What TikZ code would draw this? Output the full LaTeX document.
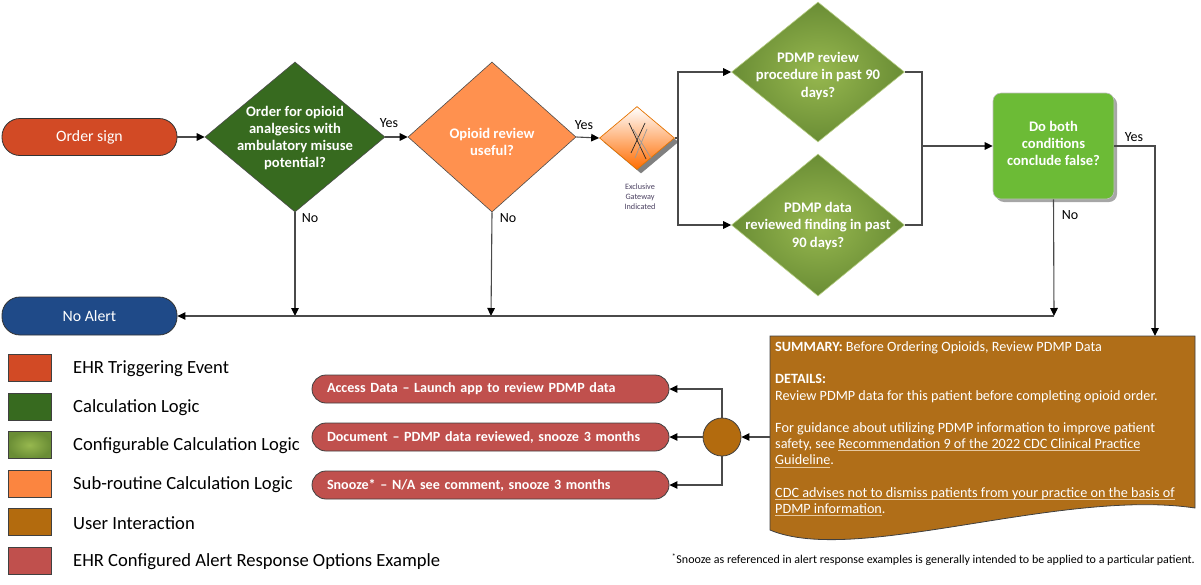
\documentclass[tikz,border=0pt]{standalone}
\usepackage{fontspec}
\setmainfont{Carlito}
\usetikzlibrary{shapes.geometric,arrows.meta,shadows}
\definecolor{orderred}{HTML}{D24A25}
\definecolor{calcgreen}{HTML}{376A1F}
\definecolor{suborange}{HTML}{FF914F}
\definecolor{legorange}{HTML}{FB8540}
\definecolor{cfgin}{HTML}{97B84F}
\definecolor{cfgout}{HTML}{6A8D35}
\definecolor{boxgreen}{HTML}{6CBB36}
\definecolor{noalertblue}{HTML}{1F4A88}
\definecolor{notebrown}{HTML}{B06E18}
\definecolor{userbrown}{HTML}{B36B0E}
\definecolor{pillred}{HTML}{C0504D}
\definecolor{linegray}{HTML}{4A4A4A}
\definecolor{ulcol}{HTML}{E6C8A0}
\definecolor{gwtext}{HTML}{4A4060}
\newcommand\tanul[1]{\setbox0\hbox{#1}\rlap{\color{ulcol}\rule[-2.6pt]{\wd0}{0.9pt}}\box0}
\tikzset{
  conn/.style={draw=linegray, line width=1.1pt},
  arr/.style={conn, -{Triangle[length=8pt,width=7.5pt,fill=black,color=black]}},
  pill/.style={rectangle, rounded corners=18pt, draw=black!80, line width=0.8pt, minimum width=175pt, minimum height=37pt, text=white, font=\fontsize{15.8}{18}\selectfont},
  dia/.style={diamond, inner sep=0pt, draw=black!70, line width=0.6pt},
  dtext/.style={text=white, align=center, font=\bfseries\fontsize{14.6}{17.2}\selectfont},
  lbl/.style={text=black, font=\fontsize{14}{16}\selectfont, inner sep=0pt},
  legbox/.style={rectangle, draw=black!75, line width=0.8pt, minimum width=43pt, minimum height=27pt, inner sep=0pt},
  legtext/.style={anchor=west, font=\fontsize{18.6}{21}\selectfont, inner sep=0pt},
  resp/.style={rectangle, rounded corners=14pt, fill=pillred, draw=black!75, line width=0.8pt, text width=327pt, inner xsep=15pt, inner ysep=0pt, minimum height=28pt, align=left, text=white, font=\bfseries\fontsize{14.1}{16}\selectfont}
}
\begin{document}
\begin{tikzpicture}[x=1pt,y=-1pt]
\useasboundingbox (0,0) rectangle (1201,584);
% start / end
\node[pill, fill=orderred] (order) at (89.5,137) {Order sign};
\node[pill, fill=noalertblue, minimum height=38pt] (noalert) at (89.5,316) {No Alert};
% decisions
\node[dia, fill=calcgreen, minimum width=180pt, minimum height=150pt] (d1) at (295,137) {};
\node[dtext] (d1t) at (295,138) {Order for opioid\\analgesics with\\ambulatory misuse\\potential?};
\node[dia, fill=suborange, minimum width=168pt, minimum height=150pt] (d2) at (492,137) {};
\node[dtext] (d2t) at (492,142) {Opioid review\\useful?};
\node[dia, draw=orange!90!black, line width=0.7pt, top color=white, bottom color=orange!85!red, minimum width=75pt, minimum height=63pt,
  drop shadow={shadow xshift=4pt, shadow yshift=-4pt, fill=black!50, opacity=1}] (gw) at (637,138) {};
\draw[black!85, line width=0.7pt] (629,123) -- (646,159) (645,123) -- (631,153);
\draw[black!40, line width=0.7pt] (633,129) -- (651,158) (647,129) -- (635,158);
\node[text=gwtext, align=center, font=\fontsize{8.2}{10}\selectfont, inner sep=0pt] (gwt) at (640,197) {Exclusive\\Gateway\\Indicated};
\node[dia, draw=cfgin!70!white, shading=radial, inner color=cfgin, outer color=cfgout, minimum width=173pt, minimum height=140pt] (d3) at (818,72) {};
\node[dtext] (d3t) at (818,76) {PDMP review\\procedure in past 90\\days?};
\node[dia, draw=cfgin!70!white, shading=radial, inner color=cfgin, outer color=cfgout, minimum width=173pt, minimum height=142pt] (d4) at (818,225) {};
\node[dtext] (d4t) at (818,226) {PDMP data\\reviewed finding in past\\90 days?};
\node[rectangle, rounded corners=8pt, fill=boxgreen, draw=black!25, line width=0.6pt, minimum width=121pt, minimum height=106pt,
  drop shadow={shadow xshift=3pt, shadow yshift=-3pt, fill=black!35, opacity=1}] (box) at (1053.5,146) {};
\node[dtext] (boxt) at (1053.5,143.5) {Do both\\conditions\\conclude false?};
% note
\draw[fill=notebrown, draw=black!75, line width=0.8pt] (770,336) -- (1195,336) -- (1195,508) .. controls (1060,488) and (855,566) .. (770,530) -- cycle;
\coordinate (notetop) at (1155,336);
\coordinate (noteleft) at (770,437);
\node[anchor=north west, align=left, text=white, inner sep=0pt, font=\fontsize{14.2}{16.2}\selectfont] (notet) at (775,341.5) {%
\textbf{SUMMARY:} Before Ordering Opioids, Review PDMP Data\\[16.2pt]
\textbf{DETAILS:}\\
Review PDMP data for this patient before completing opioid order.\\[16.2pt]
For guidance about utilizing PDMP information to improve patient\\
safety, see \tanul{Recommendation 9 of the 2022 CDC Clinical Practice}\\
\tanul{Guideline}.\\[16.2pt]
\tanul{CDC advises not to dismiss patients from your practice on the basis of}\\
\tanul{PDMP information}.};
% response options
\node[resp] (p1) at (490.5,389) {Access Data -- Launch app to review PDMP data};
\node[resp] (p2) at (490.5,437) {Document -- PDMP data reviewed, snooze 3 months};
\node[resp] (p3) at (490.5,485) {Snooze* -- N/A see comment, snooze 3 months};
\node[circle, fill=userbrown, draw=black!75, line width=0.8pt, minimum size=38pt, inner sep=0pt] (ui) at (722,437) {};
% connectors
\draw[arr] (order.east) -- (d1.west);
\draw[arr] (d1.east) -- (d2.west);
\draw[arr] (d2.east) -- (gw.west);
\coordinate (split) at (678,138);
\draw[conn] (gw.east) -- (split);
\draw[arr] (split) |- (d3.west);
\draw[arr] (split) |- (d4.west);
\coordinate (merge) at (922,146);
\draw[conn] (d3.east) -| (merge);
\draw[conn] (d4.east) -| (merge);
\draw[arr] (merge) -- (box.west);
\draw[arr] (box.east) -| (notetop);
\coordinate (j1) at (295,316);
\coordinate (j2) at (491,316);
\coordinate (j3) at (1054,316);
\draw[arr] (d1.south) -- (j1);
\draw[arr] (d2.south) -- (j2);
\draw[arr] (box.south) -- (j3);
\draw[arr] (j3) -- (noalert.east);
\draw[arr] (noteleft) -- (ui.east);
\draw[arr] (ui.north) |- (p1.east);
\draw[arr] (ui.west) -- (p2.east);
\draw[arr] (ui.south) |- (p3.east);
% labels
\node[lbl] (y1) at (389,123) {Yes};
\node[lbl] (n1) at (310,218) {No};
\node[lbl] (y2) at (584,125) {Yes};
\node[lbl] (n2) at (508,218) {No};
\node[lbl] (y3) at (1134,137) {Yes};
\node[lbl] (n3) at (1070,215) {No};
% legend
\node[legbox, fill=orderred] (l1) at (29.5,368) {};
\node[legtext] (l1t) at (73,369) {EHR Triggering Event};
\node[legbox, fill=calcgreen] (l2) at (29.5,406.5) {};
\node[legtext] (l2t) at (73,407.5) {Calculation Logic};
\node[legbox, shading=radial, inner color=cfgin, outer color=cfgout] (l3) at (29.5,445) {};
\node[legtext] (l3t) at (73,446) {Configurable Calculation Logic};
\node[legbox, fill=legorange] (l4) at (29.5,483.5) {};
\node[legtext] (l4t) at (73,484.5) {Sub-routine Calculation Logic};
\node[legbox, fill=userbrown] (l5) at (29.5,522) {};
\node[legtext] (l5t) at (73,523) {User Interaction};
\node[legbox, fill=pillred] (l6) at (29.5,561) {};
\node[legtext] (l6t) at (73,562) {EHR Configured Alert Response Options Example};
% footnote
\node[anchor=east, inner sep=0pt, font=\fontsize{12}{13}\selectfont] (foot) at (1195,560) {\textsuperscript{*}Snooze as referenced in alert response examples is generally intended to be applied to a particular patient.};
\end{tikzpicture}
\end{document}
